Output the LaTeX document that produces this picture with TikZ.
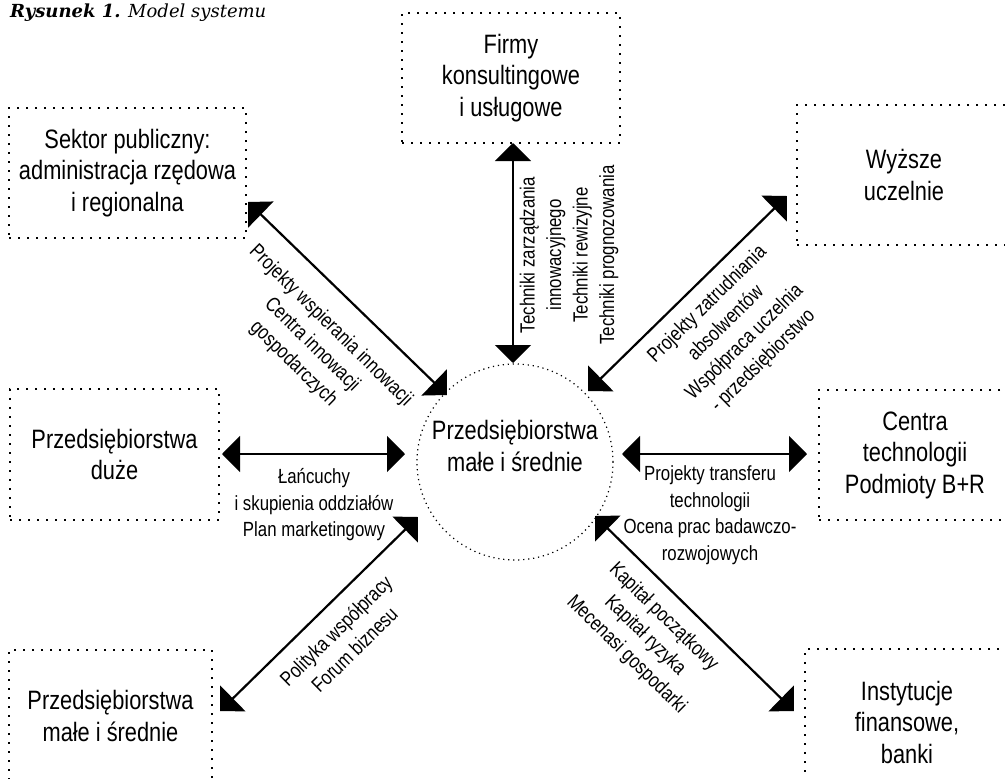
\documentclass[tikz,border=0pt]{standalone}
\usepackage{fontspec}
\setmainfont{Liberation Sans}[FakeStretch=0.82]
\newfontfamily\titlefont{DejaVu Serif}
\usetikzlibrary{arrows.meta}

\newcommand\boxfont{\fontsize{26.6}{31.5}\selectfont}
\newcommand\lblfont{\fontsize{20.5}{26.5}\selectfont}

\begin{document}
\begin{tikzpicture}[x=1pt,y=-1pt,
  box/.style={draw, line width=2pt, dash pattern=on 2pt off 7pt,
    inner sep=0pt, align=center, font=\boxfont},
  link/.style={line width=2.2pt,
    {Triangle[length=18pt,width=36pt]}-{Triangle[length=18pt,width=36pt]}},
  lbl/.style={align=center, font=\lblfont, inner sep=0pt},
  hubring/.style={circle, draw, line width=1.2pt,
    dash pattern=on 1.2pt off 3.8pt, minimum size=196pt, inner sep=0pt}
]
\useasboundingbox (0,0) rectangle (1005,779);

% title
\node[anchor=base west, inner sep=0pt,
  font=\titlefont\fontsize{18}{22}\selectfont] (title) at (10,17)
  {\textbf{\textit{Rysunek 1.}} \textit{Model systemu}};

% surrounding partners (the right-hand and lower boxes run off the page)
\begin{scope}
\clip (0,0) rectangle (1005,779);
\node[box, minimum width=218pt, minimum height=130pt] (firmy) at (511,78)
  {Firmy\\konsultingowe\\i usługowe};
\node[box, minimum width=237pt, minimum height=130pt] (sektor) at (127.5,173)
  {Sektor publiczny:\\administracja rzędowa\\i regionalna};
\node[box, minimum width=214pt, minimum height=140pt] (uczelnie) at (904,175)
  {Wyższe\\uczelnie};
\node[box, minimum width=209pt, minimum height=131pt] (duze) at (114.5,454.5)
  {Przedsiębiorstwa\\duże};
\node[box, minimum width=192pt, minimum height=130pt] (centra) at (915,455)
  {Centra\\technologii\\Podmioty B+R};
\node[box, minimum width=203pt, minimum height=132pt] (msp) at (110.5,716)
  {Przedsiębiorstwa\\małe i średnie};
\node[box, minimum width=204pt, minimum height=146pt] (inst) at (907,722)
  {Instytucje\\finansowe,\\banki};
\end{scope}

% central enterprise
\node[hubring] (hub) at (515,462) {};
\node[align=center, font=\boxfont, inner sep=0pt] (hubtext) at (515,446)
  {Przedsiębiorstwa\\małe i średnie};

% arrow ends
\coordinate (fA) at (513,143);  \coordinate (fB) at (513,363);
\coordinate (sA) at (248,202);  \coordinate (sB) at (447,395);
\coordinate (uA) at (787,196);  \coordinate (uB) at (588,391);
\coordinate (dA) at (222,454);  \coordinate (dB) at (405,454);
\coordinate (cA) at (807,454);  \coordinate (cB) at (622,454);
\coordinate (mA) at (220,711);  \coordinate (mB) at (418,517);
\coordinate (iA) at (794,711);  \coordinate (iB) at (595,516);

\draw[link] (fA) -- (fB);
\draw[link] (sA) -- (sB);
\draw[link] (uA) -- (uB);
\draw[link] (dA) -- (dB);
\draw[link] (cA) -- (cB);
\draw[link] (mA) -- (mB);
\draw[link] (iA) -- (iB);

% flows along the arrows
\node[lbl, rotate=90] (lF) at (569,255)
  {Techniki zarządzania\\innowacyjnego\\Techniki rewizyjne\\Techniki prognozowania};
\node[lbl, rotate=-44.5] (lS) at (312,345)
  {Projekty wspierania innowacji\\Centra innowacji\\gospodarczych};
\node[lbl, rotate=44.5] (lU) at (735.5,333)
  {Projekty zatrudniania\\absolwentów\\Współpraca uczelnia\\- przedsiębiorstwo};
\node[lbl] (lD) at (314,505)
  {Łańcuchy\\i skupienia oddziałów\\Plan marketingowy};
\node[lbl] (lC) at (710,515)
  {Projekty transferu\\technologii\\Ocena prac badawczo-\\rozwojowych};
\node[lbl, rotate=44.5] (lM) at (345,640)
  {Polityka współpracy\\Forum biznesu};
\node[lbl, rotate=-44.5] (lI) at (645,636)
  {Kapitał początkowy\\Kapitał ryzyka\\Mecenasi gospodarki};
\end{tikzpicture}
\end{document}
